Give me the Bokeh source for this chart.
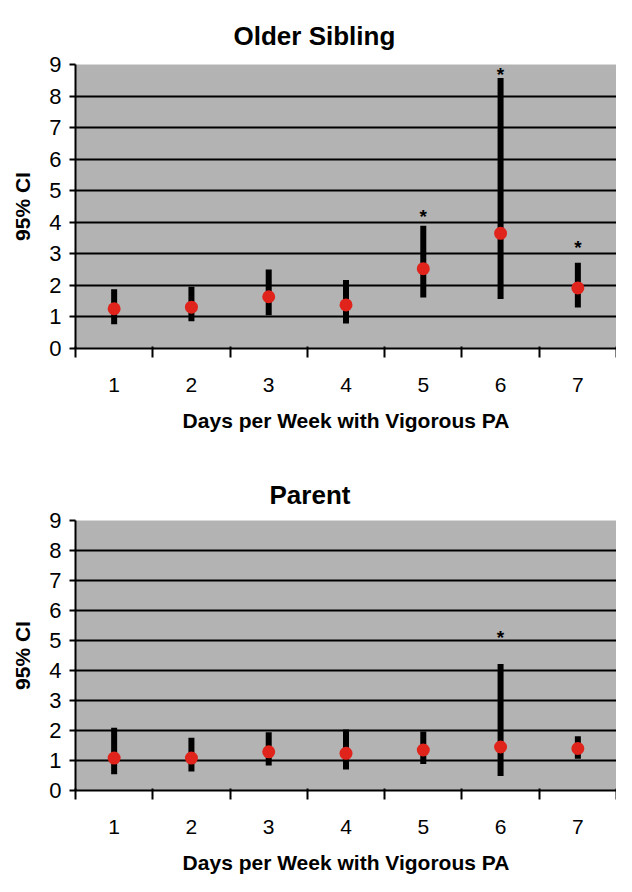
from bokeh.plotting import figure
from bokeh.layouts import column
from bokeh.models import Range1d, FixedTicker, ColumnDataSource
from bokeh.core.properties import value
from bokeh.embed import file_html
from bokeh.resources import INLINE

days = [1, 2, 3, 4, 5, 6, 7]
day_labels = ["1", "2", "3", "4", "5", "6", "7"]

older_est = [1.26, 1.31, 1.64, 1.38, 2.53, 3.65, 1.92]
older_lo = [0.77, 0.86, 1.05, 0.79, 1.62, 1.57, 1.30]
older_hi = [1.88, 1.96, 2.50, 2.17, 3.89, 8.57, 2.72]
older_star_days = [5, 6, 7]
older_star_y = [4.34, 8.83, 3.35]

parent_est = [1.08, 1.08, 1.29, 1.24, 1.35, 1.45, 1.40]
parent_lo = [0.54, 0.63, 0.83, 0.70, 0.88, 0.48, 1.06]
parent_hi = [2.09, 1.76, 1.94, 2.03, 1.97, 4.22, 1.81]
parent_star_days = [6]
parent_star_y = [5.28]

y_ticks = [0, 1, 2, 3, 4, 5, 6, 7, 8, 9]
FONT = "Liberation Sans"
BG = "#b3b3b3"
RED = "#e0241c"


def make_panel(title, est, lo, hi, sdays, sy, height, top, bottom, right,
               title_offset, title_standoff):
    p = figure(width=616, height=height, output_backend="svg", toolbar_location=None,
               x_range=Range1d(0.5, 7.5), y_range=Range1d(0, 9),
               min_border_left=75, min_border_right=right,
               min_border_top=top, min_border_bottom=bottom)
    p.background_fill_color = BG
    p.border_fill_color = "white"
    p.outline_line_color = None

    p.title.text = title
    p.title.align = "left"
    p.title.offset = title_offset
    p.title.standoff = title_standoff
    p.title.text_font = FONT
    p.title.text_font_size = "26px"
    p.title.text_font_style = "bold"
    p.title.text_color = "black"

    p.xgrid.grid_line_color = None
    p.ygrid.grid_line_color = "black"
    p.ygrid.grid_line_width = 2
    p.ygrid.ticker = FixedTicker(ticks=y_ticks)

    p.yaxis.ticker = FixedTicker(ticks=y_ticks)
    p.yaxis.axis_line_color = "black"
    p.yaxis.axis_line_width = 2
    p.yaxis.major_tick_line_color = "black"
    p.yaxis.major_tick_line_width = 2
    p.yaxis.major_tick_out = 6
    p.yaxis.major_tick_in = 0
    p.yaxis.minor_tick_line_color = None
    p.yaxis.major_label_text_font = FONT
    p.yaxis.major_label_text_font_size = "22px"
    p.yaxis.major_label_text_color = "black"
    p.yaxis.major_label_standoff = 8
    p.yaxis.axis_label = "95% CI"
    p.yaxis.axis_label_text_font = FONT
    p.yaxis.axis_label_text_font_size = "21px"
    p.yaxis.axis_label_text_font_style = "bold"
    p.yaxis.axis_label_text_color = "black"
    p.yaxis.axis_label_standoff = 12

    p.xaxis.ticker = FixedTicker(ticks=days, minor_ticks=[d - 0.5 for d in days] + [7.5])
    p.xaxis.major_label_overrides = {d: l for d, l in zip(days, day_labels)}
    p.xaxis.axis_line_color = "black"
    p.xaxis.axis_line_width = 2
    p.xaxis.major_tick_line_color = None
    p.xaxis.major_tick_out = 0
    p.xaxis.major_tick_in = 0
    p.xaxis.minor_tick_line_color = "black"
    p.xaxis.minor_tick_line_width = 2
    p.xaxis.minor_tick_out = 9
    p.xaxis.minor_tick_in = 2
    p.xaxis.major_label_text_font = FONT
    p.xaxis.major_label_text_font_size = "21px"
    p.xaxis.major_label_text_color = "black"
    p.xaxis.major_label_standoff = 20
    p.xaxis.axis_label = "Days per Week with Vigorous PA"
    p.xaxis.axis_label_text_font = FONT
    p.xaxis.axis_label_text_font_size = "21px"
    p.xaxis.axis_label_text_font_style = "bold"
    p.xaxis.axis_label_text_color = "black"
    p.xaxis.axis_label_standoff = 14

    src = ColumnDataSource(dict(x=days, est=est, lo=lo, hi=hi))
    p.segment(x0="x", y0="lo", x1="x", y1="hi", source=src,
              line_color="black", line_width=6, line_cap="butt")
    p.scatter(x="x", y="est", source=src, size=13, fill_color=RED,
              line_color=None, marker="circle")
    p.text(x=sdays, y=sy, text=["*"] * len(sdays), text_align="center",
           text_baseline="middle", text_font=value(FONT), text_font_style="bold",
           text_font_size="19px", text_color="black", y_offset=5)
    return p


p1 = make_panel("Older Sibling", older_est, older_lo, older_hi,
                older_star_days, older_star_y, 436, 64, 88, 0, 158, 28)
p2 = make_panel("Parent", parent_est, parent_lo, parent_hi,
                parent_star_days, parent_star_y, 440, 84, 80, 0, 194, 22)

layout = column(p1, p2, spacing=0)
open("out.html", "w").write(file_html(layout, INLINE))
